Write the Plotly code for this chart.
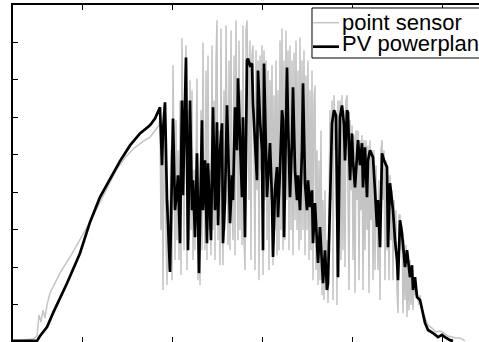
import plotly.graph_objects as go

# time in minutes of the day, irradiance in W/m^2
sensor_t = [222, 246, 262, 270, 274, 278, 282, 286, 290, 296, 306, 316, 336, 356, 370, 386, 406, 426, 446, 466, 486, 496, 506, 514,
            516, 518, 520, 522, 524, 526, 528, 530, 532, 534, 538, 540, 542, 544, 546, 548, 550, 552, 554, 556, 558, 560,
            562, 564, 566, 568, 570, 572, 574, 576, 578, 580, 582, 584, 586, 588, 590, 592, 594, 596, 598, 600, 602, 604,
            606, 608, 610, 612, 614, 616, 618, 620, 622, 624, 626, 628, 630, 632, 634, 636, 638, 640, 642, 644, 646, 648,
            650, 652, 654, 656, 658, 660, 662, 664, 666, 668, 670, 672, 674, 676, 678, 680, 682, 684, 686, 688, 690, 692,
            694, 696, 698, 700, 702, 704, 706, 708, 710, 712, 714, 716, 718, 720, 722, 724, 726, 728, 730, 732, 734, 736,
            738, 740, 742, 744, 746, 748, 750, 752, 754, 756, 758, 760, 762, 764, 766, 768, 770, 772, 774, 776, 778, 780,
            782, 784, 786, 788, 790, 792, 794, 796, 798, 800, 802, 804, 806, 808, 810, 812, 814, 816, 818, 820, 822, 824,
            826, 828, 830, 832, 834, 836, 838, 840, 842, 844, 846, 848, 850, 852, 854, 856, 858, 860, 862, 864, 866, 868,
            870, 872, 874, 876, 878, 880, 882, 884, 886, 888, 890, 892, 894, 896, 898, 900, 902, 904, 906, 908, 910, 912,
            914, 916, 918, 920, 922, 924, 926, 928, 930, 932, 934, 936, 938, 940, 942, 944, 946, 948, 950, 952, 954, 956,
            958, 960, 962, 964, 966, 968, 970, 972, 974, 976, 978, 980, 982, 984, 986, 988, 990, 992, 994, 996, 998, 1000,
            1002, 1004, 1006, 1008, 1010, 1012, 1014, 1016, 1018, 1020, 1022, 1024, 1026, 1030, 1032, 1034, 1036, 1040,
            1046, 1052, 1060, 1068, 1076, 1084, 1092, 1100, 1108, 1116, 1126]
sensor_v = [3, 5, 8, 16, 72, 53, 85, 64, 99, 131, 157, 184, 227, 272, 307, 347, 400, 453, 493, 520, 539, 547, 565, 579,
            592, 299, 539, 139, 485, 592, 272, 152, 379, 192, 512, 165, 739, 325, 219, 592, 272, 512, 219, 645, 179, 811,
            379, 245, 672, 792, 192, 619, 272, 699, 299, 672, 219, 459, 245, 592, 704, 165, 379, 152, 619, 245, 800, 379,
            245, 725, 219, 765, 299, 459, 232, 792, 299, 645, 219, 752, 859, 272, 565, 205, 837, 379, 205, 672, 299, 845,
            512, 259, 752, 245, 832, 379, 272, 765, 232, 859, 485, 272, 805, 299, 672, 259, 845, 272, 192, 832, 859, 699,
            379, 805, 219, 765, 792, 512, 192, 779, 405, 752, 165, 765, 459, 792, 179, 779, 379, 752, 272, 725, 192, 699,
            379, 739, 205, 659, 299, 752, 232, 672, 245, 805, 299, 837, 245, 752, 272, 832, 379, 779, 245, 792, 299, 752,
            232, 773, 325, 805, 299, 725, 245, 813, 272, 752, 299, 779, 232, 712, 299, 752, 219, 672, 245, 725, 165, 645,
            685, 192, 512, 152, 485, 165, 565, 125, 379, 112, 405, 139, 272, 104, 459, 619, 379, 645, 112, 659, 512, 619,
            99, 645, 379, 645, 219, 659, 245, 619, 200, 645, 659, 379, 139, 592, 405, 579, 219, 552, 131, 565, 379, 565,
            165, 539, 352, 552, 139, 539, 245, 539, 299, 525, 131, 539, 325, 512, 165, 512, 192, 472, 299, 192, 432, 112,
            512, 539, 379, 512, 165, 485, 245, 445, 165, 445, 272, 405, 165, 379, 245, 352, 139, 77, 339, 339, 245, 312,
            77, 272, 112, 259, 67, 232, 85, 219, 99, 179, 85, 165, 125, 139, 112, 99, 125, 91,
            64, 45, 37, 27, 29, 24, 16, 13, 11, 11, 3]

plant_t = [222, 246, 270, 276, 282, 290, 302, 316, 330, 356, 376, 396, 416, 436, 456, 476, 496, 506, 516,
           520, 522, 526, 530, 536, 542, 546, 550, 552, 556, 560, 562, 568, 572, 576, 580, 582, 586, 590, 594,
           600, 602, 606, 610, 612, 618, 622, 626, 630, 632, 636, 640, 642, 646, 650, 654, 656, 660, 662, 666,
           670, 672, 676, 680, 682, 686, 690, 692, 696, 700, 702, 706, 710, 712, 716, 720, 722, 724, 728, 730,
           736, 740, 742, 746, 750, 752, 756, 760, 762, 764, 766, 770, 772, 776, 780, 782, 786, 790, 792, 796,
           800, 802, 806, 810, 812, 816, 820, 822, 826, 830, 832, 836, 840, 842, 846, 850, 852, 856, 860, 864,
           868, 872, 876, 880, 884, 886, 890, 892, 896, 900, 902, 906, 910, 912, 916, 920, 922, 926, 930, 932,
           936, 940, 942, 946, 950, 952, 956, 960, 964, 970, 972, 976, 980, 982, 986, 990, 992, 996, 1000, 1006,
           1010, 1016, 1020, 1022, 1026, 1030, 1036, 1040, 1046, 1052, 1062, 1072, 1080, 1086, 1096, 1102]
plant_v = [3, 3, 3, 16, 27, 40, 77, 117, 157, 237, 320, 387, 437, 483, 525, 557, 579, 597, 627,
           472, 565, 640, 379, 187, 597, 352, 405, 445, 264, 645, 392, 760, 245, 645, 352, 432, 280, 504, 184,
           592, 352, 485, 264, 477, 272, 627, 352, 587, 312, 512, 584, 264, 379, 632, 432, 317, 445, 379, 627,
           512, 704, 512, 387, 600, 280, 752, 757, 739, 744, 637, 539, 432, 725, 592, 512, 245, 744, 512, 387,
           531, 379, 227, 405, 467, 333, 459, 619, 592, 280, 432, 733, 592, 387, 539, 680, 459, 379, 445, 352,
           512, 691, 424, 352, 432, 360, 405, 264, 371, 245, 211, 307, 205, 157, 245, 139, 157, 379, 584, 619,
           605, 173, 600, 632, 579, 485, 619, 613, 432, 557, 485, 413, 512, 539, 472, 531, 413, 520, 387, 485,
           512, 499, 493, 405, 307, 379, 253, 504, 485, 467, 253, 424, 379, 352, 272, 219, 165, 325, 291, 200,
           245, 173, 205, 139, 173, 120, 112, 85, 51, 32, 24, 13, 19, 13, 5, 3]

x_ticks = [360, 540, 720, 900, 1080]
y_ticks = [0, 100, 200, 300, 400, 500, 600, 700, 800, 900]
series_names = ["point sensor", "PV powerplant"]
series_colors = ["#c4c4c4", "#000000"]
series_widths = [1.5, 2.7]

FONT = "Liberation Sans, Arial, sans-serif"

fig = go.Figure()
fig.add_trace(go.Scatter(x=sensor_t, y=sensor_v, mode="lines", name=series_names[0],
                         line=dict(color=series_colors[0], width=series_widths[0])))
fig.add_trace(go.Scatter(x=plant_t, y=plant_v, mode="lines", name=series_names[1],
                         line=dict(color=series_colors[1], width=series_widths[1])))

# MATLAB-style legend box (cut at the right edge, as in the reference)
shapes = [dict(type="rect", xref="paper", yref="paper", x0=0.6416, x1=1.08, y0=0.8427, y1=0.9911,
               fillcolor="white", line=dict(color="black", width=1), layer="above")]
annotations = []
for i, (yy, ty) in enumerate([(0.9475, 0.9466), (0.8763, 0.8843)]):
    shapes.append(dict(type="line", xref="paper", yref="paper", x0=0.6438, x1=0.6996, y0=yy, y1=yy,
                       line=dict(color=series_colors[i], width=series_widths[i]), layer="above"))
    annotations.append(dict(xref="paper", yref="paper", x=0.7039, y=ty, xanchor="left", yanchor="middle",
                            text=series_names[i], showarrow=False, borderpad=0,
                            font=dict(size=22, family=FONT, color="black")))

fig.update_layout(
    width=479, height=342,
    margin=dict(l=13, r=0, t=5, b=0, pad=0, autoexpand=False),
    paper_bgcolor="white", plot_bgcolor="white",
    font=dict(family=FONT, color="black"),
    showlegend=False,
    shapes=shapes, annotations=annotations,
    xaxis=dict(range=[222, 1154], tickvals=x_ticks, ticks="inside", ticklen=5, tickwidth=1,
               tickcolor="black", showticklabels=False, showgrid=False, zeroline=False,
               showline=True, linecolor="black", linewidth=2, mirror="ticks"),
    yaxis=dict(range=[0, 900], tickvals=y_ticks, ticks="inside", ticklen=5, tickwidth=1,
               tickcolor="black", showticklabels=False, showgrid=False, zeroline=False,
               showline=True, linecolor="black", linewidth=2, mirror=False),
)

fig.write_html("out.html", config={"displayModeBar": False},
               post_script="document.body.style.margin='0';document.body.style.overflow='hidden';")
